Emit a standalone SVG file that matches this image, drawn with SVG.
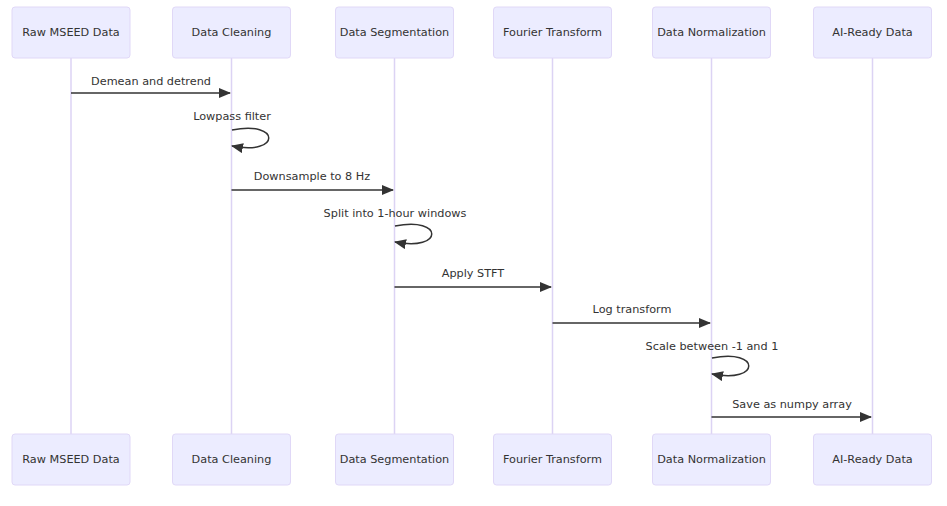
<svg xmlns="http://www.w3.org/2000/svg" width="947" height="506" viewBox="0 0 947 506">
<defs>
<marker id="ah" viewBox="0 0 12 10" refX="11" refY="5" markerWidth="12" markerHeight="10" markerUnits="userSpaceOnUse" orient="auto">
<path d="M0,0 L12,5 L0,10 z" fill="#333"/>
</marker>
<style>
.box{fill:#ECECFF;stroke:#E0D8F7;stroke-width:1}
.lt{font-family:"DejaVu Sans",Verdana,sans-serif;font-size:11.25px;fill:#333;text-anchor:middle;dominant-baseline:central}
.life{stroke:#DCD3F4;stroke-width:1.5}
.msg{stroke:#333;stroke-width:1.5;fill:none}
</style>
</defs>
<rect width="947" height="506" fill="#fff"/>
<g id="lifelines">
<line class="life" x1="71" y1="58" x2="71" y2="434"/>
<line class="life" x1="231.5" y1="58" x2="231.5" y2="434"/>
<line class="life" x1="394.5" y1="58" x2="394.5" y2="434"/>
<line class="life" x1="552.5" y1="58" x2="552.5" y2="434"/>
<line class="life" x1="711.5" y1="58" x2="711.5" y2="434"/>
<line class="life" x1="872.5" y1="58" x2="872.5" y2="434"/>
</g>
<g id="raw">
<rect class="box" x="12" y="7" width="118" height="51" rx="3"/>
<text class="lt" x="71" y="32.5">Raw MSEED Data</text>
<rect class="box" x="12" y="434" width="118" height="51" rx="3"/>
<text class="lt" x="71" y="459.5">Raw MSEED Data</text>
</g>
<g id="cleaning">
<rect class="box" x="172.5" y="7" width="118" height="51" rx="3"/>
<text class="lt" x="231.5" y="32.5">Data Cleaning</text>
<rect class="box" x="172.5" y="434" width="118" height="51" rx="3"/>
<text class="lt" x="231.5" y="459.5">Data Cleaning</text>
</g>
<g id="segmentation">
<rect class="box" x="335.5" y="7" width="118" height="51" rx="3"/>
<text class="lt" x="394.5" y="32.5">Data Segmentation</text>
<rect class="box" x="335.5" y="434" width="118" height="51" rx="3"/>
<text class="lt" x="394.5" y="459.5">Data Segmentation</text>
</g>
<g id="fourier">
<rect class="box" x="493.5" y="7" width="118" height="51" rx="3"/>
<text class="lt" x="552.5" y="32.5">Fourier Transform</text>
<rect class="box" x="493.5" y="434" width="118" height="51" rx="3"/>
<text class="lt" x="552.5" y="459.5">Fourier Transform</text>
</g>
<g id="normalization">
<rect class="box" x="652.5" y="7" width="118" height="51" rx="3"/>
<text class="lt" x="711.5" y="32.5">Data Normalization</text>
<rect class="box" x="652.5" y="434" width="118" height="51" rx="3"/>
<text class="lt" x="711.5" y="459.5">Data Normalization</text>
</g>
<g id="aiready">
<rect class="box" x="813.5" y="7" width="118" height="51" rx="3"/>
<text class="lt" x="872.5" y="32.5">AI-Ready Data</text>
<rect class="box" x="813.5" y="434" width="118" height="51" rx="3"/>
<text class="lt" x="872.5" y="459.5">AI-Ready Data</text>
</g>
<g id="connectors">
<line class="msg" x1="71" y1="93" x2="230" y2="93" marker-end="url(#ah)"/>
<text class="lt" x="151" y="81">Demean and detrend</text>
<path class="msg" d="M232,130 C281,120 281,156 232,146" marker-end="url(#ah)"/>
<text class="lt" x="232" y="116">Lowpass filter</text>
<line class="msg" x1="231.5" y1="190" x2="393" y2="190" marker-end="url(#ah)"/>
<text class="lt" x="312" y="176.5">Downsample to 8 Hz</text>
<path class="msg" d="M395,226 C444,216 444,252 395,242" marker-end="url(#ah)"/>
<text class="lt" x="395" y="213">Split into 1-hour windows</text>
<line class="msg" x1="394.5" y1="287" x2="551" y2="287" marker-end="url(#ah)"/>
<text class="lt" x="473" y="273.5">Apply STFT</text>
<line class="msg" x1="552.5" y1="323" x2="710" y2="323" marker-end="url(#ah)"/>
<text class="lt" x="632" y="309.5">Log transform</text>
<path class="msg" d="M712,358 C761,348 761,384 712,374" marker-end="url(#ah)"/>
<text class="lt" x="712" y="346">Scale between -1 and 1</text>
<line class="msg" x1="711.5" y1="417" x2="871" y2="417" marker-end="url(#ah)"/>
<text class="lt" x="792" y="404.5">Save as numpy array</text>
</g>
</svg>
